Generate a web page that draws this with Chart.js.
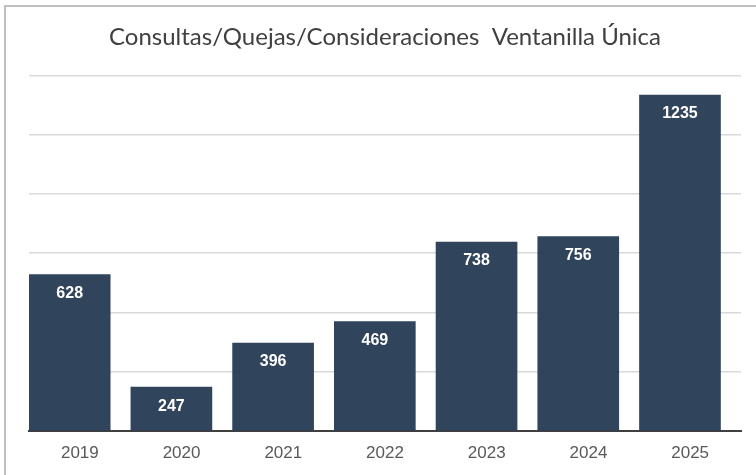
<!DOCTYPE html>
<html>
<head>
<meta charset="utf-8">
<script src="https://cdn.jsdelivr.net/npm/chart.js@4.4.1/dist/chart.umd.min.js"></script>
<style>
  html, body { margin: 0; padding: 0; background: #fff; }
  #wrap { position: relative; width: 756px; height: 475px; }
  #frame { position: absolute; left: 4px; top: 5px; right: 0; bottom: 0;
           border-left: 2px solid #bfbfbf; border-top: 2px solid #bfbfbf; pointer-events: none; }
</style>
</head>
<body>
<div id="wrap">
  <canvas id="chart" width="756" height="475"></canvas>
  <div id="frame"></div>
</div>
<script>
const titleText = 'Consultas/Quejas/Consideraciones  Ventanilla Única';
const years = ['2019', '2020', '2021', '2022', '2023', '2024', '2025'];
const counts = [628, 247, 396, 469, 738, 756, 1235];
const yMin = 100;
const yMax = 1300;
const yStep = 200;

const barColor = 'rgba(40, 60, 85, 0.96)';

// bars sit at the left of each year slot, so they go on a hidden numeric axis
const barPoints = counts.map((v, i) => ({ x: i, y: v }));

// white value labels inside the top of each bar
const valueLabels = {
  id: 'valueLabels',
  afterDatasetsDraw(chart) {
    const ctx = chart.ctx;
    const meta = chart.getDatasetMeta(0);
    ctx.save();
    ctx.fillStyle = '#ffffff';
    ctx.font = 'bold 16px "Liberation Sans", Arial, sans-serif';
    ctx.textAlign = 'center';
    ctx.textBaseline = 'middle';
    meta.data.forEach((bar, i) => {
      ctx.fillText(String(counts[i]), bar.x, bar.y + 19);
    });
    ctx.restore();
  }
};

new Chart(document.getElementById('chart').getContext('2d'), {
  type: 'bar',
  data: {
    labels: years,
    datasets: [{
      data: barPoints,
      xAxisID: 'xb',
      backgroundColor: barColor,
      borderWidth: 0,
      barThickness: 81
    }]
  },
  options: {
    responsive: false,
    animation: false,
    layout: { padding: { left: 29, right: 15, top: 0, bottom: 6 } },
    plugins: {
      legend: { display: false },
      tooltip: { enabled: false },
      title: {
        display: true,
        text: titleText,
        color: '#404040',
        font: { family: 'Lato, sans-serif', size: 24, weight: '400', lineHeight: 1.2 },
        padding: { top: 23, bottom: 24 }
      }
    },
    scales: {
      x: {
        type: 'category',
        labels: years,
        min: years[0],
        max: years[years.length - 1],
        offset: true,
        z: 1,
        grid: { display: false },
        border: { display: true, color: '#404040', width: 2 },
        ticks: {
          color: '#595959',
          font: { family: '"Liberation Sans", Arial, sans-serif', size: 17 },
          padding: 5
        }
      },
      xb: {
        type: 'linear',
        display: false,
        offset: false,
        min: -0.4,
        max: years.length - 0.4
      },
      y: {
        min: yMin,
        max: yMax,
        z: 1,
        ticks: { display: false, stepSize: yStep },
        border: { display: false },
        grid: { color: 'rgba(0, 0, 0, 0.15)', lineWidth: 1.5, drawTicks: false }
      }
    }
  },
  plugins: [valueLabels]
});
</script>
</body>
</html>
